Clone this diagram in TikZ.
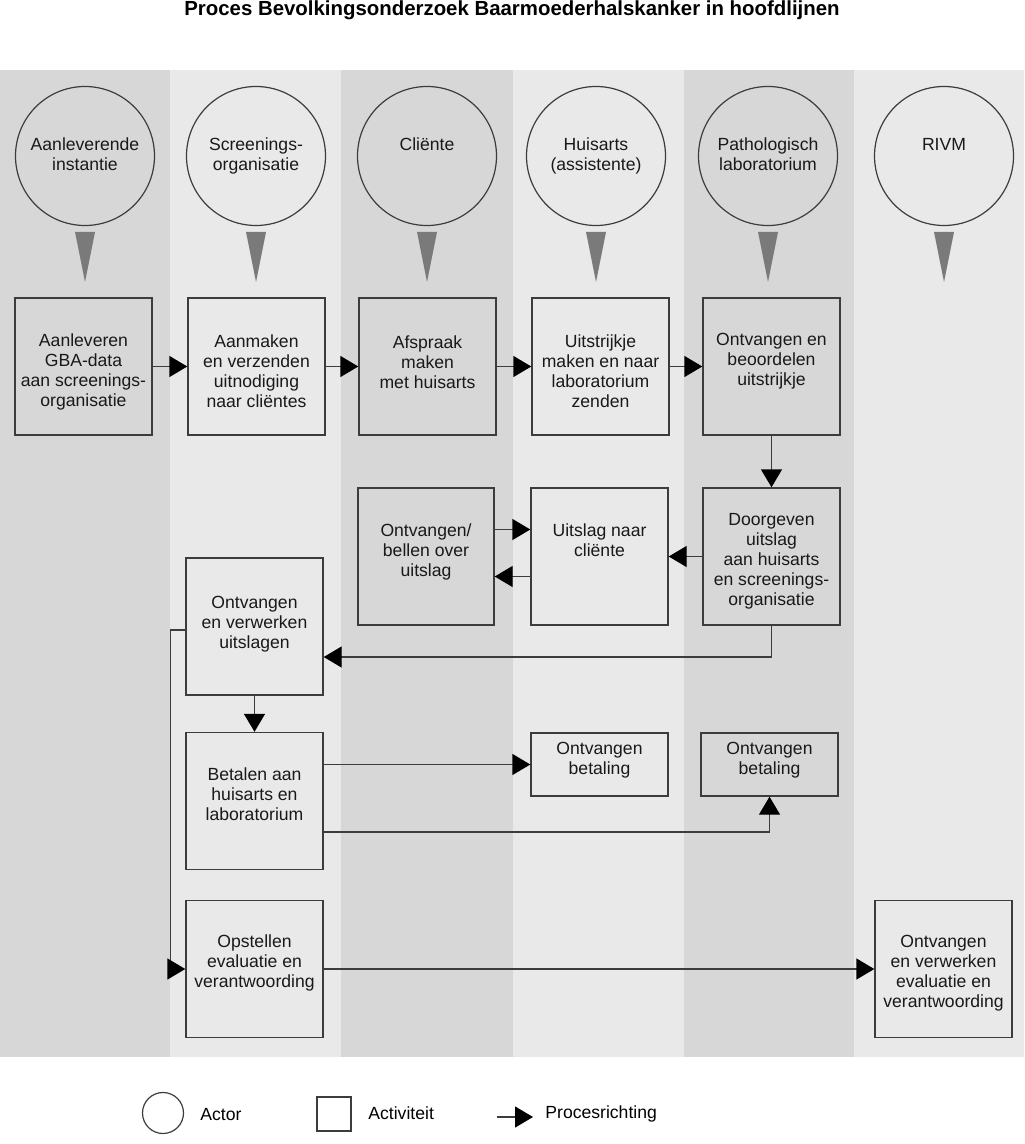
\documentclass[tikz,border=0pt]{standalone}
\usepackage{fontspec}
\setmainfont{Liberation Sans}
\usetikzlibrary{arrows.meta,calc}
\definecolor{lanedark}{HTML}{D7D7D7}
\definecolor{lanelight}{HTML}{E9E9E9}
\definecolor{edge}{HTML}{3C3C3C}
\definecolor{marker}{HTML}{7A7A7A}
\begin{document}
\begin{tikzpicture}[x=0.5pt,y=-0.5pt,
  font=\fontsize{8.8}{10}\selectfont,
  actor/.style={circle,draw=edge,line width=0.6pt,minimum size=69.5pt,inner sep=0pt},
  actbox/.style={rectangle,draw=edge,line width=0.7pt,minimum width=68.5pt,minimum height=68.5pt,inner sep=0pt},
  smallbox/.style={actbox,minimum height=31.5pt},
  txt/.style={align=center,inner sep=0pt,anchor=north,text=black!90},
  arr/.style={draw=edge,line width=0.7pt,-{Triangle[length=9pt,width=10.5pt,color=black]}},
  mark/.style={fill=marker}
]
\useasboundingbox (0,0) rectangle (1024,1144);
% lanes
\fill[lanedark]  (0,70) rectangle (170,1057);
\fill[lanelight] (170,70) rectangle (341,1057);
\fill[lanedark]  (341,70) rectangle (513,1057);
\fill[lanelight] (513,70) rectangle (684,1057);
\fill[lanedark]  (684,70) rectangle (854,1057);
\fill[lanelight] (854,70) rectangle (1024,1057);
% title
\node[anchor=base,font=\fontsize{10.2}{12}\selectfont\bfseries,inner sep=0pt] (title) at (512,16) {Proces Bevolkingsonderzoek Baarmoederhalskanker in hoofdlijnen};
% actors
\foreach \n/\x/\c/\t in {a1/85/lanedark/{Aanleverende\\instantie},
                        a2/256/lanelight/{Screenings-\\organisatie},
                        a3/427/lanedark/{Cliënte},
                        a4/596/lanelight/{Huisarts\\(assistente)},
                        a5/768/lanedark/{Pathologisch\\laboratorium},
                        a6/944/lanelight/{RIVM}}{
  \node[actor,fill=\c] (\n) at (\x,156) {};
  \node[txt] (\n t) at ($(\n.center)+(0,-18.5)$) {\t};
  \fill[marker] (\x-10,232) -- (\x+10,232) -- (\x,282) -- cycle;
}
% row 1
\node[actbox,fill=lanedark]  (b1) at (83.5,366.5) {};
\node[actbox,fill=lanelight] (b2) at (256.5,366.5) {};
\node[actbox,fill=lanedark]  (b3) at (427.5,366.5) {};
\node[actbox,fill=lanelight] (b4) at (600.5,366.5) {};
\node[actbox,fill=lanedark]  (b5) at (771.5,366.5) {};
\node[txt] (b1t) at ($(b1.north)+(0,36)$) {Aanleveren\\GBA-data\\aan screenings-\\organisatie};
\node[txt] (b2t) at ($(b2.north)+(0,37)$) {Aanmaken\\en verzenden\\uitnodiging\\naar cliëntes};
\node[txt] (b3t) at ($(b3.north)+(0,38)$) {Afspraak\\maken\\met huisarts};
\node[txt] (b4t) at ($(b4.north)+(0,37)$) {Uitstrijkje\\maken en naar\\laboratorium\\zenden};
\node[txt] (b5t) at ($(b5.north)+(0,36)$) {Ontvangen en\\beoordelen\\uitstrijkje};
% row 2
\node[actbox,fill=lanedark,minimum width=68pt] (ob) at (426,556.5) {};
\node[actbox,fill=lanelight] (us) at (599.5,556.5) {};
\node[actbox,fill=lanedark]  (dg) at (771.5,556.5) {};
\node[txt] (obt) at ($(ob.north)+(0,36.5)$) {Ontvangen/\\bellen over\\uitslag};
\node[txt] (ust) at ($(us.north)+(0,36.5)$) {Uitslag naar\\cliënte};
\node[txt] (dgt) at ($(dg.north)+(0,25.5)$) {Doorgeven\\uitslag\\aan huisarts\\en screenings-\\organisatie};
% row 3
\node[actbox,fill=lanelight] (uv) at (254.5,626.5) {};
\node[txt] (uvt) at ($(uv.north)+(0,38.5)$) {Ontvangen\\en verwerken\\uitslagen};
% row 4
\node[actbox,fill=lanelight] (bt) at (254.5,801) {};
\node[txt] (btt) at ($(bt.north)+(0,35.5)$) {Betalen aan\\huisarts en\\laboratorium};
\node[smallbox,fill=lanelight] (p1) at (599.5,764.5) {};
\node[smallbox,fill=lanedark]  (p2) at (769.5,764.5) {};
\node[txt] (p1t) at ($(p1.north)+(0,9.5)$) {Ontvangen\\betaling};
\node[txt] (p2t) at ($(p2.north)+(0,9.5)$) {Ontvangen\\betaling};
% row 5
\node[actbox,fill=lanelight] (op) at (254.5,969) {};
\node[actbox,fill=lanelight] (rv) at (943.5,969) {};
\node[txt] (opt) at ($(op.north)+(0,34.5)$) {Opstellen\\evaluatie en\\verantwoording};
\node[txt] (rvt) at ($(rv.north)+(0,34.5)$) {Ontvangen\\en verwerken\\evaluatie en\\verantwoording};
% connectors
\draw[arr] (b1.east) -- (b2.west);
\draw[arr] (b2.east) -- (b3.west);
\draw[arr] (b3.east) -- (b4.west);
\draw[arr] (b4.east) -- (b5.west);
\draw[arr] (b5.south) -- (dg.north);
\draw[arr] (dg.west) -- (us.east);
\draw[arr] ([yshift=13.5pt]ob.east) -- ([yshift=13.5pt]us.west);
\draw[arr] ([yshift=-10pt]us.west) -- ([yshift=-10pt]ob.east);
\draw[arr] (dg.south) |- ([yshift=-15.25pt]uv.east);
\draw[arr] ([yshift=-1.75pt]uv.west) -- ++(-15,0) |- (op.west);
\draw[arr] (uv.south) -- (bt.north);
\draw[arr] (bt.east |- p1.west) -- (p1.west);
\draw[arr] ([yshift=-15.5pt]bt.east) -| (p2.south);
\draw[arr] (op.east) -- (rv.west);
% legend
\node[circle,draw=edge,line width=0.6pt,minimum size=20.5pt,inner sep=0pt] (lc) at (163,1113) {};
\node[anchor=west,inner sep=0pt] (lct) at (200,1115) {Actor};
\node[rectangle,draw=edge,line width=0.6pt,minimum size=17pt,inner sep=0pt] (lsq) at (334,1114) {};
\node[anchor=west,inner sep=0pt] (lsqt) at (368,1113) {Activiteit};
\coordinate (la) at (497,1117);
\coordinate (lb) at (533,1117);
\draw[arr] (la) -- (lb);
\node[anchor=west,inner sep=0pt] (lat) at (545,1114) {Procesrichting};
\end{tikzpicture}
\end{document}
